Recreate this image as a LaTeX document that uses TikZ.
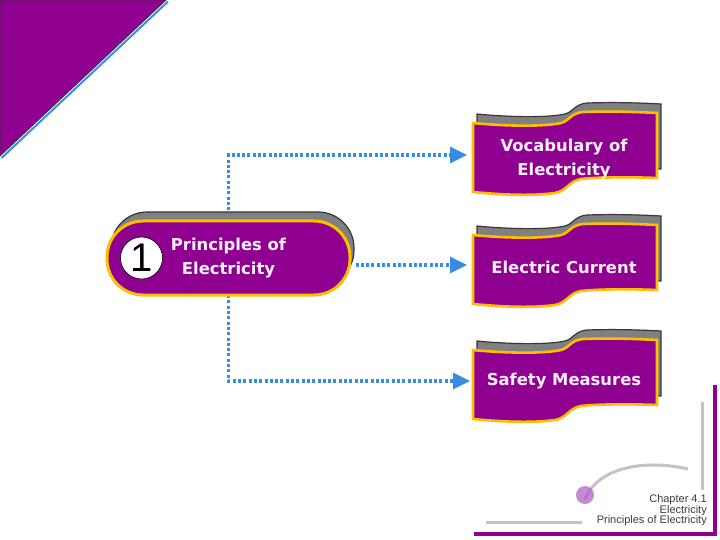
\documentclass[tikz,border=0pt]{standalone}
\usepackage{fontspec}
\setmainfont{DejaVu Sans}
\newfontfamily\arialfont{Liberation Sans}
\usetikzlibrary{arrows.meta,backgrounds}
\definecolor{mpurple}{RGB}{143,0,145}
\definecolor{mgold}{RGB}{250,192,0}
\definecolor{mblue}{RGB}{55,140,230}
\definecolor{mshadow}{RGB}{128,128,128}
\definecolor{mshadowline}{RGB}{55,55,55}
\definecolor{mlgray}{RGB}{195,195,195}
\definecolor{mlilac}{RGB}{170,90,190}
\definecolor{mtext}{RGB}{250,240,250}
\definecolor{mfoot}{RGB}{60,60,60}
\newcommand\bannerpath{(0,0) .. controls (30,3) and (70,4) .. (88,0) .. controls (96,-2) and (98,-10) .. (110,-11) .. controls (140,-12) and (165,-11) .. (184,-10) -- (184,55) .. controls (160,54) and (125,54) .. (108,56) .. controls (96,58) and (94,68) .. (82,70) .. controls (60,73) and (30,72) .. (0,69) -- cycle}
\tikzset{
  bannerpic/.pic={
    \path[shift={(4,-9)}, draw=mshadowline, fill=mshadow, line width=1.2pt] \bannerpath;
    \path[draw=mgold, fill=mpurple, line width=2.6pt] \bannerpath;
  },
  btext/.style={text=mtext, font=\fontsize{16.4}{24}\selectfont\bfseries, align=center, inner sep=0pt},
  pill/.style={draw=mgold, fill=mpurple, line width=3pt, rounded corners=36pt, minimum width=243pt, minimum height=74pt, inner sep=0pt, text=mtext, font=\fontsize{16.4}{24}\selectfont\bfseries, align=center},
  numc/.style={circle, draw=black, line width=0.6pt, fill=white, minimum size=42pt, inner sep=0pt, font=\arialfont\fontsize{40}{40}\selectfont},
  conn/.style={draw=mblue, line width=3.2pt, dash pattern=on 3pt off 2.3pt, -{Triangle[length=17pt,width=16pt]}},
  foot/.style={text=mfoot, font=\arialfont\fontsize{11}{10.3}\selectfont, align=right, inner sep=0pt}
}
\begin{document}
\begin{tikzpicture}[x=1pt,y=-1pt]
\useasboundingbox (0,0) rectangle (720,540);
% corner triangle
\fill[mpurple] (0,0) -- (166,0) -- (0,156) -- cycle;
\draw[mblue, line width=2pt] (168,1.5) -- (1.5,158);
\draw[black!80, line width=0.8pt] (0,156) -- (0,0) -- (166,0) -- cycle;
% pill
\draw[draw=mshadowline, fill=mshadow, line width=1.2pt, rounded corners=36pt] (111,212) rectangle (354,286);
\node[pill] (p) at (228.5,258) {Principles of\\Electricity};
\node[numc] (n1) at (141.5,258) {1};
% banners
\pic at (473,123) {bannerpic};
\pic at (473,235) {bannerpic};
\pic at (473,350) {bannerpic};
\node[btext] (voc) at (564,159) {Vocabulary of\\Electricity};
\node[btext] (ec) at (564,267) {Electric Current};
\node[btext] (sm) at (564,381) {Safety Measures};
\coordinate (vocA) at (467,155);
\coordinate (ecA) at (467,265);
\coordinate (smA) at (470,381);
\begin{scope}[on background layer]
\fill[white] (0,0) rectangle (720,540);
\draw[conn] (p.center) |- (vocA);
\draw[conn] (p.center) |- (smA);
\end{scope}
\draw[conn] (p.east |- ecA) ++(4,0) -- (ecA);
% footer
\draw[mpurple, line width=3.5pt] (715,385) -- (715,534) -- (474,534);
\draw[mlgray, line width=3pt] (702,402) -- (702,490);
\draw[mlgray, line width=3pt] (486,522) -- (582,522);
\draw[mlgray, line width=3pt] (585,500) .. controls (595,470) and (640,458) .. (688,469);
\fill[mlilac, opacity=0.7] (585,495) circle (9);
\node[foot, anchor=south east] (ft) at (707,526) {Chapter 4.1\\Electricity\\Principles of Electricity};
\end{tikzpicture}
\end{document}
